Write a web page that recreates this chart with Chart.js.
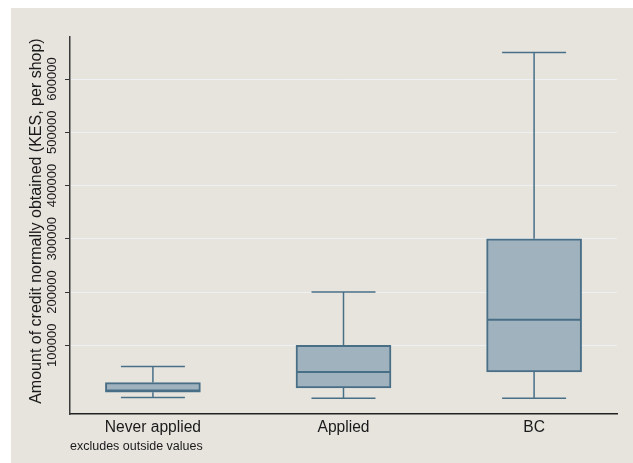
<!DOCTYPE html>
<html>
<head>
<meta charset="utf-8">
<script src="https://cdn.jsdelivr.net/npm/chart.js@4/dist/chart.umd.min.js"></script>
<style>
  html, body { margin: 0; padding: 0; background: #ffffff; }
  #wrap { width: 633px; height: 463px; }
</style>
</head>
<body>
<div id="wrap"><canvas id="chart" width="633" height="463"></canvas></div>
<script>
// Credit amounts per shop, summarised as box plots (outside values excluded)
const categories = ['Never applied', 'Applied', 'BC'];
const lowerWhisker = [2000, 500, 500];
const lowerQuartile = [12000, 20000, 50000];
const medianValue = [15000, 50000, 148000];
const upperQuartile = [30000, 100000, 300000];
const upperWhisker = [60000, 200000, 650000];
const yTickValues = [100000, 200000, 300000, 400000, 500000, 600000];

const FONT = "'Liberation Sans', Arial, Helvetica, sans-serif";
const BOX_FILL = '#a0b2be';
const BOX_LINE = '#496f87';
const PANEL = '#e7e4de';

// Page background: white margin with the beige graph region
const backgroundPlugin = {
  id: 'graphRegion',
  beforeDraw(chart) {
    const ctx = chart.ctx;
    ctx.save();
    ctx.fillStyle = '#ffffff';
    ctx.fillRect(0, 0, chart.width, chart.height);
    ctx.fillStyle = PANEL;
    ctx.fillRect(11, 8, chart.width - 11, chart.height - 8);
    ctx.restore();
  }
};

// Whiskers, caps and median lines for each box
const whiskerPlugin = {
  id: 'whiskers',
  afterDatasetsDraw(chart) {
    const ctx = chart.ctx;
    const xs = chart.scales.x, ys = chart.scales.y;
    const meta = chart.getDatasetMeta(0);
    const capHalf = 32;
    ctx.save();
    ctx.strokeStyle = BOX_LINE;
    categories.forEach((c, i) => {
      const px = xs.getPixelForValue(i);
      const half = meta.data[i].width / 2;
      const yHi = ys.getPixelForValue(upperWhisker[i]);
      const yQ3 = ys.getPixelForValue(upperQuartile[i]);
      const yQ1 = ys.getPixelForValue(lowerQuartile[i]);
      const yLo = ys.getPixelForValue(lowerWhisker[i]);
      const yMed = ys.getPixelForValue(medianValue[i]);
      ctx.lineWidth = 1.5;
      ctx.beginPath();
      ctx.moveTo(px, yQ3); ctx.lineTo(px, yHi);
      ctx.moveTo(px - capHalf, yHi); ctx.lineTo(px + capHalf, yHi);
      ctx.moveTo(px, yQ1); ctx.lineTo(px, yLo);
      ctx.moveTo(px - capHalf, yLo); ctx.lineTo(px + capHalf, yLo);
      ctx.stroke();
      ctx.lineWidth = 2;
      ctx.beginPath();
      ctx.moveTo(px - half + 1, yMed); ctx.lineTo(px + half - 1, yMed);
      ctx.stroke();
    });
    ctx.restore();
  }
};

new Chart(document.getElementById('chart'), {
  type: 'bar',
  data: {
    datasets: [{
      data: categories.map((c, i) => ({ x: i, y: [lowerQuartile[i], upperQuartile[i]] })),
      backgroundColor: BOX_FILL,
      borderColor: BOX_LINE,
      borderWidth: 2,
      borderSkipped: false,
      barThickness: 95
    }]
  },
  options: {
    responsive: false,
    animation: false,
    layout: { padding: { left: 0, top: 37, right: 16, bottom: 0 } },
    plugins: { legend: { display: false }, tooltip: { enabled: false } },
    scales: {
      x: {
        type: 'linear',
        offset: false,
        min: -0.435,
        max: 2.435,
        afterBuildTicks(scale) { scale.ticks = categories.map((c, i) => ({ value: i })); },
        afterFit(scale) { scale.height = 49; },
        grid: { display: false, offset: false },
        border: { display: true, color: '#222222', width: 1.5 },
        ticks: {
          callback: (v) => categories[v],
          font: { family: FONT, size: 15.6 },
          color: '#1a1a1a',
          padding: -4,
          maxRotation: 0,
          autoSkip: false
        },
        title: {
          display: true,
          text: 'excludes outside values',
          align: 'start',
          font: { family: FONT, size: 12.5, lineHeight: 1 },
          color: '#1a1a1a',
          padding: { top: 0, bottom: 10 }
        }
      },
      y: {
        min: -29000,
        max: 679000,
        afterBuildTicks(scale) { scale.ticks = yTickValues.map(v => ({ value: v })); },
        afterFit(scale) { scale.width = 70; },
        grid: {
          color: '#edf1f3',
          lineWidth: 1,
          drawTicks: true,
          tickLength: 5,
          tickColor: '#333333',
          tickWidth: 1
        },
        border: { display: true, color: '#3a3a3a', width: 1.5 },
        ticks: {
          callback: (v) => String(v),
          font: { family: FONT, size: 13 },
          color: '#1a1a1a',
          minRotation: 90,
          maxRotation: 90,
          crossAlign: 'center',
          padding: -9,
          autoSkip: false
        },
        title: {
          display: true,
          text: '  Amount of credit normally obtained (KES, per shop)',
          font: { family: FONT, size: 16, lineHeight: 1 },
          color: '#1a1a1a',
          padding: { top: 28.7, bottom: 0 }
        }
      }
    }
  },
  plugins: [backgroundPlugin, whiskerPlugin]
});
</script>
</body>
</html>
